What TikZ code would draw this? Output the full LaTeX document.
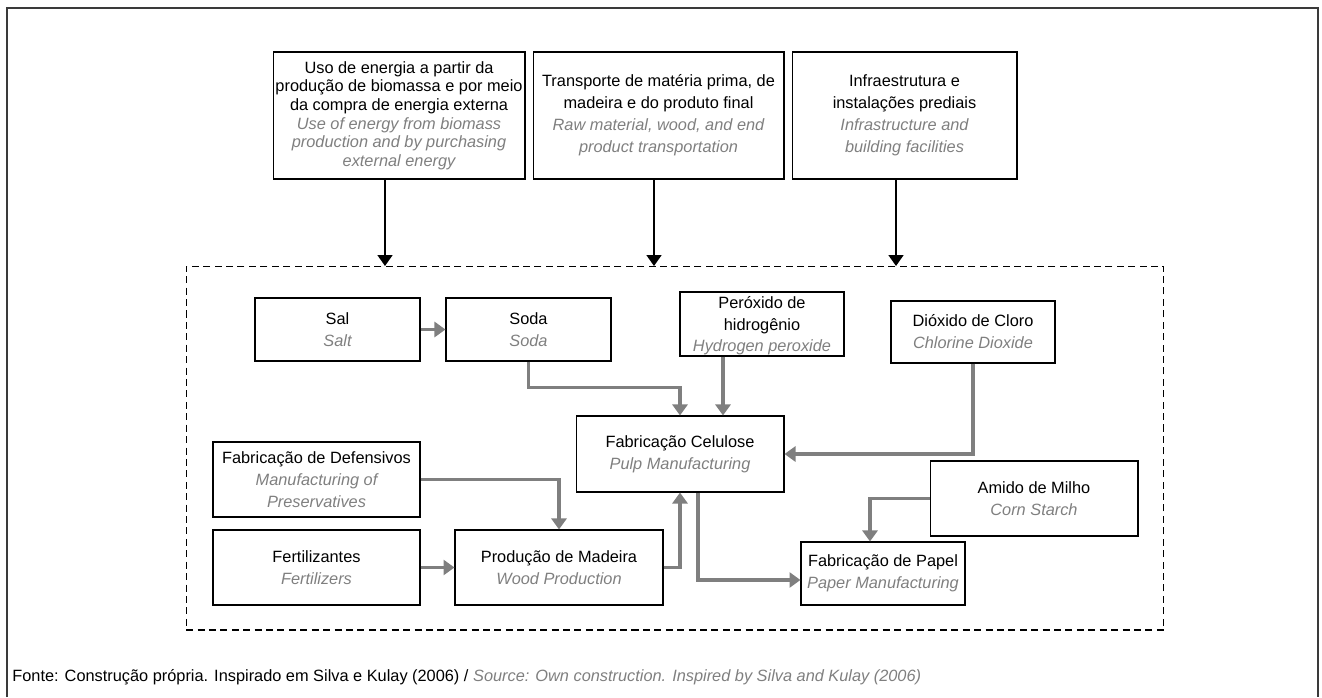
\documentclass[tikz,border=0pt]{standalone}
\usepackage{fontspec}
\setmainfont{Liberation Sans}
\usepackage{xcolor}
\usepackage{tikz}
\usetikzlibrary{arrows.meta}
\definecolor{grayx}{HTML}{7F7F7F}
\definecolor{framex}{HTML}{3A3A3A}
\newcommand{\eng}[1]{{\color{grayx}\itshape #1}}
\tikzset{
  box/.style={draw=black,line width=0.6pt,inner sep=0pt,align=center,font=\fontsize{9.3}{12.5}\selectfont},
  arb/.style={-{Triangle[length=2.2mm,width=3mm]},line width=1pt,black},
  arg/.style={-{Triangle[length=2.2mm,width=3mm]},line width=1.8pt,grayx},
  dashbox/.style={draw=black,dash pattern=on 4pt off 2.5pt,line width=0.6pt,inner sep=0pt}
}
\begin{document}
\begin{tikzpicture}[x=0.02cm,y=-0.02cm]
\useasboundingbox (0,0) rectangle (1322,697);
\draw[framex,line width=0.8pt] (7,697) -- (7,8) -- (1318,8) -- (1318,697);
\node[box,minimum width=5.04cm,minimum height=2.54cm,font=\fontsize{9.3}{10.6}\selectfont] (energia) at (399,115.5)
  {Uso de energia a partir da\\produção de biomassa e por meio\\da compra de energia externa\\
   \eng{Use of energy from biomass}\\\eng{production and by purchasing}\\\eng{external energy}};
\node[box,minimum width=5.02cm,minimum height=2.54cm] (transporte) at (658.5,115.5)
  {Transporte de matéria prima, de\\madeira e do produto final\\\eng{Raw material, wood, and end}\\\eng{product transportation}};
\node[box,minimum width=4.5cm,minimum height=2.54cm] (infra) at (904.5,115.5)
  {Infraestrutura e\\instalações prediais\\\eng{Infrastructure and}\\\eng{building facilities}};
\node[dashbox,minimum width=19.56cm,minimum height=7.28cm] (limite) at (675,448) {};
\coordinate (e1) at (385,266); \coordinate (e2) at (654,266); \coordinate (e3) at (896,266);
\draw[arb] (energia.south -| e1) -- (e1);
\draw[arb] (transporte.south -| e2) -- (e2);
\draw[arb] (infra.south -| e3) -- (e3);
\node[box,minimum width=3.3cm,minimum height=1.26cm] (sal) at (337.5,329.5) {Sal\\\eng{Salt}};
\node[box,minimum width=3.3cm,minimum height=1.26cm] (soda) at (528.5,329.5) {Soda\\\eng{Soda}};
\node[box,minimum width=3.28cm,minimum height=1.28cm,text depth=0pt] (peroxido) at (762,324) {Peróxido de\\hidrogênio\\\eng{Hydrogen peroxide}};
\node[box,minimum width=3.28cm,minimum height=1.24cm] (dioxido) at (973,332) {Dióxido de Cloro\\\eng{Chlorine Dioxide}};
\node[box,minimum width=4.16cm,minimum height=1.52cm] (celulose) at (680,454) {Fabricação Celulose\\\eng{Pulp Manufacturing}};
\node[box,minimum width=4.14cm,minimum height=1.5cm] (defensivos) at (316.5,479.5) {Fabricação de Defensivos\\\eng{Manufacturing of}\\\eng{Preservatives}};
\node[box,minimum width=4.14cm,minimum height=1.5cm] (fertil) at (316.5,567.5) {Fertilizantes\\\eng{Fertilizers}};
\node[box,minimum width=4.16cm,minimum height=1.5cm] (madeira) at (559,567.5) {Produção de Madeira\\\eng{Wood Production}};
\node[box,minimum width=4.16cm,minimum height=1.5cm] (amido) at (1034,498.5) {Amido de Milho\\\eng{Corn Starch}};
\node[box,minimum width=3.28cm,minimum height=1.26cm] (papel) at (883,573.5) {Fabricação de Papel\\\eng{Paper Manufacturing}};
\draw[arg] (sal) -- (soda);
\draw[arg] (soda.south) |- ([yshift=0.56cm]celulose.north) -- (celulose.north);
\draw[arg] ([xshift=-0.78cm]peroxido.south) -- ([xshift=-0.78cm]peroxido.south |- celulose.north);
\draw[arg] (dioxido.south) |- (celulose.east);
\draw[arg] (defensivos.east) -| (madeira.north);
\draw[arg] (fertil) -- (madeira);
\draw[arg] (madeira.east) -| (celulose.south);
\draw[arg] ([xshift=0.36cm]celulose.south) |- ([yshift=-0.13cm]papel.west);
\draw[arg] (amido.west) -| ([xshift=-0.26cm]papel.north);
\node[anchor=west,inner sep=0pt,font=\fontsize{9.3}{11}\selectfont] (fonte) at (12,677)
  {Fonte: Construção própria. Inspirado em Silva e Kulay (2006) / \eng{Source: Own construction. Inspired by Silva and Kulay (2006)}};
\end{tikzpicture}
\end{document}
